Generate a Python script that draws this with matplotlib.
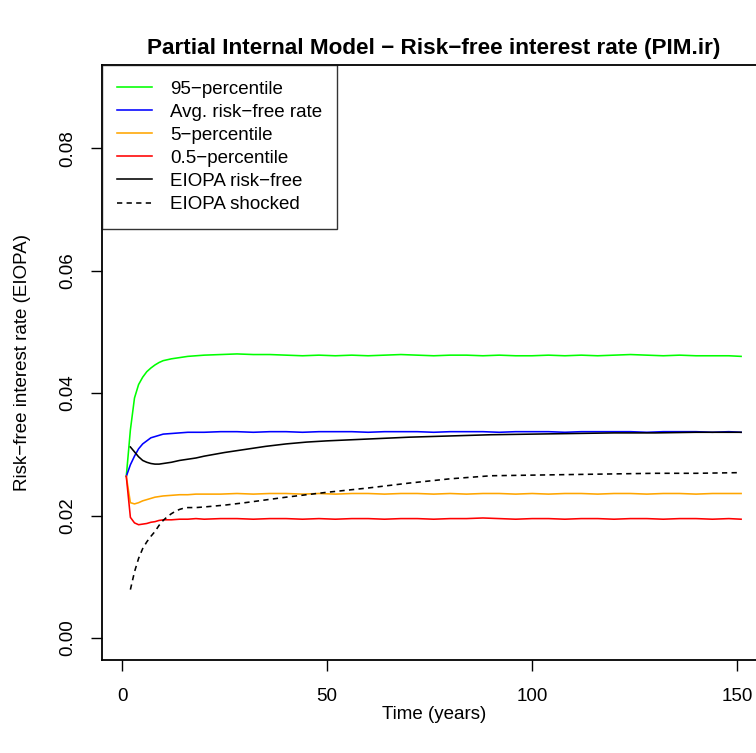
import matplotlib
matplotlib.use("Agg")
import matplotlib.pyplot as plt

plt.rcParams['font.family'] = ['Liberation Sans', 'DejaVu Sans']

# ---- data ----
t_sim = [1, 2, 3, 4, 5, 6, 7, 8, 9, 10, 12, 14, 16, 18, 20,
         24, 28, 32, 36, 40, 44, 48, 52, 56, 60, 64, 68, 72, 76, 80,
         84, 88, 92, 96, 100, 104, 108, 112, 116, 120, 124, 128, 132,
         136, 140, 144, 148, 151]

p95 = [0.0264, 0.0340, 0.0392, 0.0414, 0.0426, 0.0435, 0.0441, 0.0446, 0.0450, 0.0453,
       0.0456, 0.0458, 0.0460, 0.0461, 0.0462,
       0.0463, 0.0464, 0.0463, 0.0463, 0.0462, 0.0461, 0.0462, 0.0461, 0.0462, 0.0461,
       0.0462, 0.0463, 0.0462, 0.0461, 0.0462, 0.0462, 0.0461, 0.0462, 0.0461, 0.0461,
       0.0462, 0.0461, 0.0462, 0.0461, 0.0462, 0.0463, 0.0462, 0.0461, 0.0462, 0.0461,
       0.0461, 0.0461, 0.0460]

avg = [0.0264, 0.0283, 0.0297, 0.0309, 0.0317, 0.0322, 0.0327, 0.0329, 0.0331, 0.0333,
       0.0334, 0.0335, 0.0336, 0.0336, 0.0336,
       0.0337, 0.0337, 0.0336, 0.0337, 0.0337, 0.0336, 0.0337, 0.0337, 0.0337, 0.0336,
       0.0337, 0.0337, 0.0337, 0.0336, 0.0337, 0.0337, 0.0337, 0.0336, 0.0337, 0.0337,
       0.0337, 0.0336, 0.0337, 0.0337, 0.0337, 0.0337, 0.0336, 0.0337, 0.0337, 0.0337,
       0.0336, 0.0337, 0.0336]

p5 = [0.0264, 0.0221, 0.0219, 0.0221, 0.0224, 0.0226, 0.0228, 0.0230, 0.0231, 0.0232,
      0.0233, 0.0234, 0.0234, 0.0235, 0.0235,
      0.0235, 0.0236, 0.0235, 0.0236, 0.0236, 0.0235, 0.0236, 0.0235, 0.0236, 0.0236,
      0.0235, 0.0236, 0.0236, 0.0235, 0.0236, 0.0235, 0.0236, 0.0236, 0.0235, 0.0236,
      0.0235, 0.0236, 0.0236, 0.0235, 0.0236, 0.0236, 0.0235, 0.0236, 0.0236, 0.0235,
      0.0236, 0.0236, 0.0236]

p05 = [0.0264, 0.0197, 0.0188, 0.0185, 0.0186, 0.0187, 0.0189, 0.0190, 0.0192, 0.0193,
       0.0193, 0.0194, 0.0194, 0.0195, 0.0194,
       0.0195, 0.0195, 0.0194, 0.0195, 0.0195, 0.0194, 0.0195, 0.0194, 0.0195, 0.0195,
       0.0194, 0.0195, 0.0195, 0.0194, 0.0195, 0.0195, 0.0196, 0.0195, 0.0194, 0.0195,
       0.0195, 0.0194, 0.0195, 0.0195, 0.0194, 0.0195, 0.0195, 0.0194, 0.0195, 0.0195,
       0.0194, 0.0195, 0.0194]

t_eiopa = [2, 3, 4, 5, 6, 7, 8, 9, 10, 12, 14, 16, 18, 20, 25, 30, 35, 40, 45, 50,
           60, 70, 80, 90, 100, 110, 120, 130, 140, 151]
eiopa = [0.0312, 0.0304, 0.0296, 0.0290, 0.0287, 0.0285, 0.0284, 0.0284, 0.0285, 0.0287,
         0.0290, 0.0292, 0.0294, 0.0297, 0.0303, 0.0308, 0.0313, 0.0317, 0.0320, 0.0322,
         0.0325, 0.0328, 0.0330, 0.0332, 0.0333, 0.0334, 0.0335, 0.0335, 0.0336, 0.0336]

t_shock = [2, 3, 4, 5, 6, 7, 8, 9, 10, 11, 12, 13, 14, 15, 16, 18, 20, 25, 30, 40,
           50, 60, 70, 80, 90, 100, 110, 120, 130, 140, 150]
shocked = [0.0079, 0.0108, 0.0130, 0.0146, 0.0157, 0.0166, 0.0174, 0.0184, 0.0192, 0.0198,
           0.0203, 0.0207, 0.0210, 0.0212, 0.0213, 0.0213, 0.0214, 0.0217, 0.0221, 0.0230,
           0.0238, 0.0245, 0.0253, 0.0260, 0.0265, 0.0266, 0.0267, 0.0268, 0.0269, 0.0269,
           0.0270]

labels = ["95\u2212percentile", "Avg. risk\u2212free rate", "5\u2212percentile",
          "0.5\u2212percentile", "EIOPA risk\u2212free", "EIOPA shocked"]
x_ticks = [0, 50, 100, 150]
y_ticks = [0.00, 0.02, 0.04, 0.06, 0.08]

# ---- figure ----
W, H = 756, 753
fig = plt.figure(figsize=(W / 100, H / 100), dpi=100)
left_px, right_px, top_px, bot_px = 101.7, 765.7, 65, 660
ax = fig.add_axes([left_px / W, 1 - bot_px / H, (right_px - left_px) / W, (bot_px - top_px) / H])

lw = 1.15
ax.plot(t_sim, p95, color="#00FF00", lw=lw, label=labels[0])
ax.plot(t_sim, avg, color="#0000FF", lw=lw, label=labels[1])
ax.plot(t_sim, p5, color="#FFA500", lw=lw, label=labels[2])
ax.plot(t_sim, p05, color="#FF0000", lw=lw, label=labels[3])
ax.plot(t_eiopa, eiopa, color="black", lw=lw, label=labels[4])
ax.plot(t_shock, shocked, color="black", lw=lw, linestyle=(0, (3.3, 2.7)), label=labels[5])

ax.set_xlim(-5, 157)
ax.set_ylim(-0.0036, 0.0936)
ax.set_xticks(x_ticks)
ax.set_xticklabels([str(v) for v in x_ticks])
ax.set_yticks(y_ticks)
ax.set_yticklabels(["%.2f" % v for v in y_ticks])

fs = 13.5
ax.tick_params(axis='both', direction='out', length=8, width=1.0, labelsize=fs, colors='black')
ax.tick_params(axis='x', pad=12)
ax.tick_params(axis='y', pad=10)
for lab in ax.get_yticklabels():
    lab.set_rotation(90)
    lab.set_va('center')

for s in ax.spines.values():
    s.set_linewidth(1.3)

ax.set_xlabel("Time (years)", fontsize=fs, labelpad=1)
ax.set_ylabel("Risk\u2212free interest rate (EIOPA)", fontsize=fs, labelpad=21)
ax.set_title("Partial Internal Model \u2212 Risk\u2212free interest rate (PIM.ir)",
             fontsize=16.2, fontweight='bold', pad=8)

leg = ax.legend(loc='upper left', bbox_to_anchor=(0, 1), borderaxespad=0,
                fontsize=fs, frameon=True, fancybox=False, edgecolor='black',
                handlelength=1.87, handletextpad=0.94, labelspacing=0.32,
                borderpad=0.82)
leg.get_frame().set_linewidth(1.0)

fig.savefig("out.png", dpi=100)
